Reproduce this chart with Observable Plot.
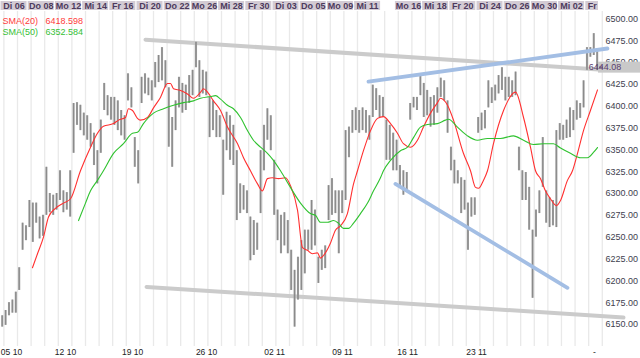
<!DOCTYPE html>
<html><head><meta charset="utf-8">
<script src="https://cdn.jsdelivr.net/npm/d3@7"></script>
<script src="https://cdn.jsdelivr.net/npm/@observablehq/plot@0.6"></script>
<style>
body{margin:0;background:#fff;font-family:Arial,"Liberation Sans",sans-serif;}
#wrap{width:640px;height:358px;overflow:hidden;position:relative;background:#fff}
svg{display:block}
</style></head><body><div id="wrap"></div>
<script>
// ---- data (time in trading days since Di 06.10, price in index points) ----
const barHigh = [
6160,6166,6175,6178,6187,6215,6266,6263,6292,6289,
6289,6273,6275,6330,6300,6298,6300,6326,6303,6301,
6326,6403,6404,6401,6392,6389,6380,6369,6349,6384,
6426,6412,6410,6410,6406,6395,6389,6437,6421,6364,
6349,6433,6437,6432,6429,6450,6458,6467,6452,6421,
6387,6406,6433,6426,6424,6435,6441,6473,6452,6441,
6439,6410,6406,6395,6389,6361,6393,6389,6378,6349,
6311,6309,6303,6273,6269,6266,6349,6378,6397,6389,
6338,6281,6275,6278,6269,6235,6212,6227,6246,6258,
6258,6292,6281,6227,6235,6240,6309,6317,6303,6303,
6303,6372,6376,6395,6398,6395,6398,6395,6389,6424,
6420,6412,6410,6384,6378,6369,6361,6332,6326,6324,
6403,6410,6410,6435,6426,6418,6410,6412,6421,6432,
6429,6406,6353,6338,6326,6318,6315,6289,6295,6295,
6387,6392,6395,6429,6421,6424,6435,6444,6433,6433,
6429,6439,6353,6326,6324,6307,6258,6281,6303,6364,
6303,6295,6292,6372,6380,6378,6384,6398,6395,6406,
6403,6429,6467,6467,6483,6464];
const barLow = [
6147,6149,6160,6163,6163,6189,6235,6246,6261,6244,
6266,6248,6251,6275,6278,6275,6281,6292,6278,6281,
6273,6346,6378,6372,6366,6361,6353,6332,6311,6346,
6395,6389,6384,6378,6372,6366,6361,6406,6398,6330,
6311,6403,6414,6412,6406,6421,6427,6429,6421,6353,
6330,6372,6398,6392,6395,6403,6412,6444,6410,6414,
6412,6364,6372,6364,6364,6298,6349,6338,6332,6269,
6277,6281,6277,6223,6229,6235,6277,6326,6361,6349,
6275,6246,6231,6240,6231,6189,6147,6178,6189,6208,
6235,6235,6240,6197,6212,6214,6269,6275,6277,6231,
6277,6292,6341,6369,6372,6369,6372,6369,6361,6387,
6395,6387,6387,6338,6338,6326,6326,6309,6298,6303,
6384,6398,6395,6412,6387,6389,6376,6378,6392,6410,
6406,6369,6326,6311,6311,6277,6281,6235,6273,6275,
6369,6372,6374,6398,6403,6406,6414,6418,6406,6410,
6410,6412,6326,6292,6292,6258,6180,6250,6277,6307,
6266,6261,6263,6261,6361,6361,6363,6364,6372,6384,
6386,6398,6441,6456,6458,6441];
const barsPerDay = 4;

const sma20Day = [2.35,2.72,3.16,3.53,4.04,4.63,5.15,5.88,6.62,7.13,7.57,8.31,8.68,9.19,9.41,9.71,10.07,10.29,10.81,11.25,11.76,12.28,12.5,12.72,13.24,13.75,14.19,14.71,14.93,15.22,15.66,16.18,16.69,17.43,17.87,18.38,18.9,19.26,19.63,20,20.44,20.96,21.32,21.84,22.21,22.57,22.94,23.31,23.53,23.75,24.26,24.63,25,25.51,25.96,26.25,26.69,27.21,27.72,28.16,28.68,29.19,29.63,30.15,30.66,31.1,31.62,32.13,32.35,32.87,33.31,34.04,34.56,34.93,35.15,35.51,35.81,36.25,36.99,37.87,38.46,38.97,39.34,39.71,40.07,40.44,40.88,41.18,41.69,42.06,42.43,42.87,43.38,43.9];
const sma20Val = [6215,6231,6250,6273,6283,6289,6294,6326,6353,6369,6377,6380,6384,6387,6397,6395,6386,6384,6387,6398,6410,6426,6426,6420,6418,6414,6409,6416,6420,6416,6406,6395,6376,6357,6341,6326,6311,6303,6317,6318,6317,6318,6309,6281,6238,6235,6231,6232,6226,6229,6243,6258,6263,6277,6311,6326,6349,6372,6386,6388,6380,6369,6357,6353,6361,6376,6392,6404,6409,6401,6384,6346,6326,6307,6306,6315,6326,6357,6395,6416,6387,6353,6326,6317,6303,6294,6286,6292,6315,6326,6346,6372,6395,6418.6];
const sma50Day = [5.74,6.25,6.62,7.13,7.57,8.31,9.04,9.71,10.07,10.51,11.25,11.99,12.72,13.46,14.19,14.71,15.44,15.81,16.18,16.69,17.13,17.65,18.16,18.6,19.12,19.63,20.07,20.59,21.32,22.06,22.79,23.16,23.53,24.04,24.49,24.85,25.22,25.59,25.96,26.47,26.99,27.43,27.94,28.16,28.68,29.41,29.93,30.37,30.88,31.4,32.13,32.72,32.94,33.6,34.34,35.07,35.81,36.76,37.72,38.46,39.19,39.93,40.66,41.18,41.91,42.65,43.16,43.6,43.9];
const sma50Val = [6269,6289,6303,6315,6326,6346,6357,6369,6370,6380,6392,6397,6401,6404,6406,6409,6411,6412,6408,6401,6397,6387,6372,6361,6353,6346,6338,6326,6307,6289,6277,6275,6267,6267,6269,6266,6260,6260,6266,6277,6289,6303,6318,6326,6338,6349,6353,6364,6376,6379,6380,6384,6385,6376,6366,6361,6363,6363,6366,6361,6356,6357,6357,6352,6346,6341,6341,6347,6352.6];

const resistDay = [10.66, 43.97], resistVal = [6476, 6442];
const supportDay = [10.74, 45.81], supportVal = [6193, 6158];
const upperBlueDay = [27.06, 44.63], upperBlueVal = [6428, 6466];
const lowerBlueDay = [29.04, 41.69], lowerBlueVal = [6311, 6192];

const topLabels = ["Di 06","Do 08","Mo 12","Mi 14","Fr 16","Di 20","Do 22","Mo 26","Mi 28","Fr 30","Di 03","Do 05","Mo 09","Mi 11","Mo 16","Mi 18","Fr 20","Di 24","Do 26","Mo 30","Mi 02","Fr"];
const topLabelDay = [0,2,4,6,8,10,12,14,16,18,20,22,24,26,29,31,33,35,37,39,41,43];
const bottomLabels = ["05 10","12 10","19 10","26 10","02 11","09 11","16 11","23 11","-"];
const bottomLabelDay = [0.81,4.78,9.71,15.15,20.15,25.15,29.93,35.0,43.68];
const yTicks = [6150,6175,6200,6225,6250,6275,6300,6325,6350,6375,6400,6425,6450,6475,6500];
const sma20Label = "SMA(20)", sma20Last = "6418.598";
const sma50Label = "SMA(50)", sma50Last = "6352.584";
const lastPrice = 6444.08;

// ---- build ----
const xDomain = [0, 44.12];
const dayEnd = 43.97;
const bars = barHigh.map((h, i) => ({t: (i + 0.5) / barsPerDay, hi: h, lo: barLow[i]}));
const pts = (ds, vs) => ds.map((d, i) => ({t: d, v: vs[i]}));
const sma20 = pts(sma20Day, sma20Val), sma50 = pts(sma50Day, sma50Val);
const gridDays = d3.range(0, 45).map(k => k + 0.25);
const topIdx = topLabels.map((_, i) => i);
const boxX1 = i => topLabelDay[i] + 0.04;
const boxX2 = i => Math.min(topLabelDay[i] + 1.95, dayEnd);

const topStrip = Plot.plot({
  width: 640, height: 11, marginTop: 1, marginBottom: 1, marginLeft: 0, marginRight: 40,
  x: {domain: xDomain, axis: null},
  marks: [
    Plot.rect(topIdx, {x1: boxX1, x2: boxX2, fill: "#d3cbd4"}),
    Plot.text(topIdx, {x: i => (boxX1(i) + boxX2(i)) / 2, text: i => topLabels[i], frameAnchor: "middle",
      fill: "#4d3a5c", fontWeight: "bold", fontSize: 9, fontFamily: "Arial, Liberation Sans"})
  ]
});

const lineOpts = (stroke, w) => ({x: "t", y: "v", stroke, strokeWidth: w});
const chart = Plot.plot({
  width: 640, height: 347, marginTop: 0, marginBottom: 12, marginLeft: 0, marginRight: 40,
  style: "font-family: Arial, 'Liberation Sans'; color:#3e3e4e; overflow: visible;",
  x: {domain: xDomain, axis: null},
  y: {domain: [6124.81, 6508.36]},
  marks: [
    Plot.ruleX(gridDays, {stroke: "#e9e9e9", strokeWidth: 1.3}),
    Plot.line(pts(resistDay, resistVal), {...lineOpts("#cbcbcb", 4)}),
    Plot.line(pts(supportDay, supportVal), {...lineOpts("#cbcbcb", 4)}),
    Plot.ruleX(bars, {x: "t", y1: "lo", y2: "hi", stroke: "#a2a2a2", strokeWidth: 2.1}),
    Plot.ruleX(bars, {x: "t", y1: "lo", y2: "hi", stroke: "#707070", strokeWidth: 0.5}),
    Plot.line(pts(upperBlueDay, upperBlueVal), {...lineOpts("#a3bee4", 3.8)}),
    Plot.line(pts(lowerBlueDay, lowerBlueVal), {...lineOpts("#a3bee4", 3.8)}),
    Plot.line(sma20, {...lineOpts("#ff3030", 1.1), curve: "monotone-x"}),
    Plot.line(sma50, {...lineOpts("#2fc22f", 1.1), curve: "monotone-x"}),
    Plot.axisY({anchor: "right", ticks: yTicks, tickFormat: d => d.toFixed(2), tickSize: 0, tickPadding: 5, fontSize: 9}),
    Plot.text(bottomLabels, {x: (d, i) => bottomLabelDay[i], text: d => d, frameAnchor: "bottom", dy: 8,
      fontSize: 8.5, fill: "#222"}),
    Plot.text([sma20Label], {frameAnchor: "top-left", dx: 2, dy: 6.5, fill: "#ff3b3b", fontSize: 9, textAnchor: "start"}),
    Plot.text([sma20Last], {frameAnchor: "top-left", dx: 45, dy: 6.5, fill: "#ff3b3b", fontSize: 9, textAnchor: "start"}),
    Plot.text([sma50Label], {frameAnchor: "top-left", dx: 2, dy: 17.5, fill: "#35c035", fontSize: 9, textAnchor: "start"}),
    Plot.text([sma50Last], {frameAnchor: "top-left", dx: 45, dy: 17.5, fill: "#35c035", fontSize: 9, textAnchor: "start"})
  ]
});

// last-price marker on the right scale
const yy = chart.scale("y").apply(lastPrice);
const xr = chart.scale("x").apply(xDomain[1]);
const g = d3.select(chart).append("g");
g.append("rect").attr("x", xr - 2).attr("y", yy - 5.5).attr("width", 44).attr("height", 11).attr("fill", "#c9c9c9");
g.append("line").attr("x1", xr - 1).attr("x2", xr + 3).attr("y1", yy).attr("y2", yy).attr("stroke", "#5a3d6e");
g.append("text").attr("x", xr + 5).attr("y", yy).attr("dy", "0.32em").attr("font-size", 9)
  .attr("fill", "#5a3d6e").text(lastPrice.toFixed(2));

const wrap = document.getElementById("wrap");
wrap.appendChild(topStrip);
wrap.appendChild(chart);
</script></body></html>
